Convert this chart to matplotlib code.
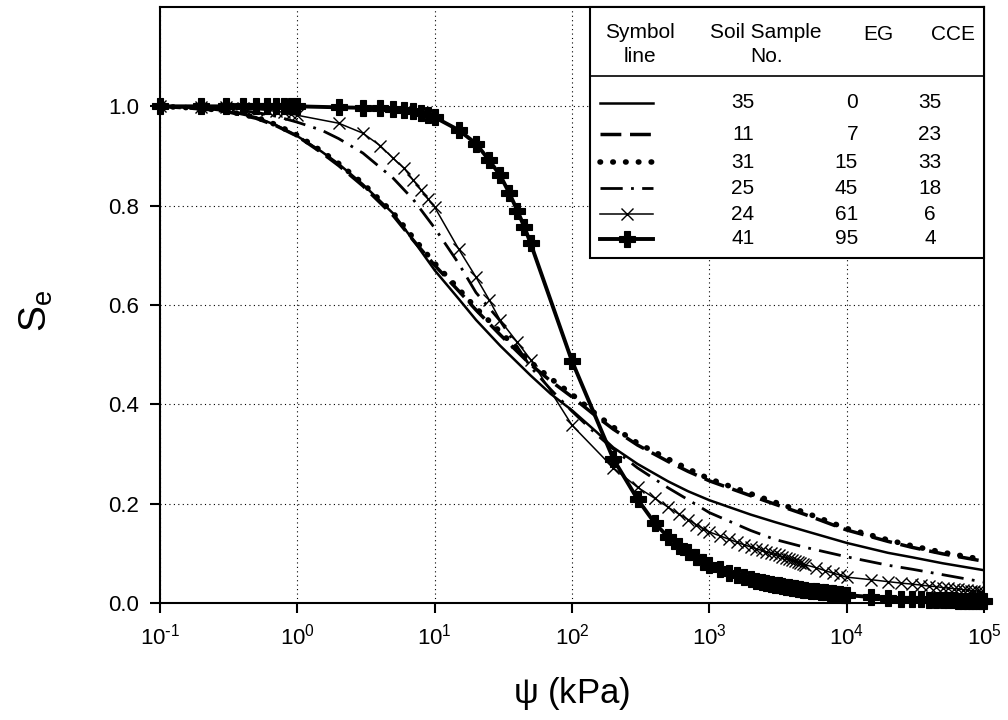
import numpy as np
import matplotlib
matplotlib.use("Agg")
import matplotlib.pyplot as plt
from matplotlib.lines import Line2D
from matplotlib.patches import Rectangle
from matplotlib.ticker import NullLocator, FixedLocator, FixedFormatter

plt.rcParams['font.family'] = ['Liberation Sans', 'DejaVu Sans']
plt.rcParams['mathtext.default'] = 'regular'
plt.rcParams['axes.unicode_minus'] = False

# suction values (kPa) for the smooth model curves
psi_line = [0.1, 0.2, 0.3, 0.5, 0.7, 1, 1.5, 2, 3, 5, 7, 10, 15, 20, 30, 50, 70,
            100, 150, 200, 300, 500, 700, 1000, 2000, 3000, 5000, 10000, 20000,
            30000, 50000, 100000]

se_35 = [1.0, .996, .991, .978, .962, .940, .909, .884, .843, .784, .730, .670,
         .612, .570, .518, .458, .421, .388, .345, .313, .280, .245, .225, .207,
         .178, .163, .145, .121, .101, .092, .080, .066]
se_11 = [1.0, .995, .990, .976, .961, .940, .907, .881, .840, .780, .730, .680,
         .628, .590, .540, .480, .447, .415, .376, .350, .318, .285, .265, .246,
         .216, .199, .178, .147, .124, .112, .099, .084]
se_31 = [1.0, .996, .991, .978, .963, .942, .910, .885, .845, .785, .735, .684,
         .632, .594, .546, .485, .452, .420, .380, .354, .322, .290, .270, .250,
         .220, .203, .182, .150, .127, .115, .102, .087]
se_25 = [1.0, .998, .995, .988, .980, .968, .952, .935, .906, .855, .812, .755,
         .683, .625, .568, .475, .430, .386, .340, .310, .272, .232, .208, .182,
         .146, .128, .112, .093, .076, .068, .057, .042]

# measured points, sample 24 (crosses)
psi_24 = ([0.1, 0.2, 0.3, 0.4, 0.5, 0.6, 0.7, 0.8, 0.9,
           1, 2, 3, 4, 5, 6, 7, 8, 9,
           10, 15, 20, 25, 30, 40, 50,
           100, 200, 300, 400, 500, 600, 700, 800, 900,
           1000, 1200, 1400, 1600, 1800, 2000, 2200, 2400, 2600, 2800, 3000,
           3200, 3400, 3600, 3800, 4000, 4200, 4400, 4600, 4800, 5000,
           6000, 7000, 8000, 9000, 10000,
           15000, 20000, 25000, 30000, 35000, 40000, 45000, 50000, 55000,
           60000, 65000, 70000, 75000, 80000, 85000, 90000, 95000, 100000])
se_24 = ([1.0, .999, .998, .996, .994, .992, .990, .988, .985,
          .982, .966, .946, .921, .895, .875, .851, .831, .813,
          .797, .712, .656, .610, .569, .525, .490,
          .358, .272, .233, .211, .193, .179, .168, .158, .150,
          .143, .135, .128, .122, .117, .113, .109, .106, .103, .100, .098,
          .096, .093, .091, .089, .087, .085, .083, .081, .079, .077,
          .071, .065, .060, .056, .052,
          .047, .043, .040, .038, .036, .034, .033, .031, .030,
          .029, .028, .027, .026, .025, .024, .024, .023, .022])

# measured points, sample 41 (filled plus)
psi_41 = ([0.1, 0.2, 0.3, 0.4, 0.5, 0.6, 0.7, 0.8, 0.9,
           1, 2, 3, 4, 5, 6, 7, 8, 9,
           10, 15, 20, 25, 30, 35, 40, 45, 50,
           100, 200, 300, 400, 500, 600, 700, 800, 900,
           1000, 1200, 1400, 1600, 1800, 2000, 2200, 2400, 2600, 2800, 3000,
           3200, 3400, 3600, 3800, 4000, 4200, 4400, 4600, 4800, 5000,
           5500, 6000, 6500, 7000, 7500, 8000, 8500, 9000, 9500, 10000,
           15000, 20000, 25000, 30000, 35000, 40000, 45000, 50000, 55000,
           60000, 65000, 70000, 75000, 80000, 85000, 90000, 95000, 100000])
se_41 = ([1.0, 1.0, 1.0, 1.0, 1.0, 1.0, 1.0, 1.0, 1.0,
          1.0, .998, .997, .996, .994, .992, .990, .987, .983,
          .978, .952, .925, .891, .861, .825, .790, .757, .724,
          .487, .290, .209, .161, .133, .115, .102, .092, .083,
          .076, .068, .061, .056, .052, .048, .045, .043, .041, .039, .037,
          .036, .034, .033, .032, .031, .030, .029, .028, .027, .026,
          .025, .024, .023, .022, .021, .020, .019, .018, .017, .016,
          .012, .010, .009, .008, .008, .007, .007, .006, .006,
          .006, .005, .005, .005, .005, .004, .004, .004, .004])

x_ticks = [0.1, 1, 10, 100, 1000, 10000, 100000]
x_labels = [r'$10^{\text{-}1}$', r'$10^{0}$', r'$10^{1}$', r'$10^{2}$',
            r'$10^{3}$', r'$10^{4}$', r'$10^{5}$']
y_ticks = [0, 0.2, 0.4, 0.6, 0.8, 1.0]

# legend table
soil_no = ['35', '11', '31', '25', '24', '41']
eg = ['0', '7', '15', '45', '61', '95']
cce = ['35', '23', '33', '18', '6', '4']

fig = plt.figure(figsize=(10.08, 7.2), dpi=100)
ax = fig.add_axes([160/1008, 117/720, 824/1008, 596/720])

styles = [
    dict(color='k', lw=1.8, ls='-'),
    dict(color='k', lw=2.5, ls=(0, (6, 2.5))),
    dict(color='k', lw=4, ls=(0, (0.1, 2.2)), dash_capstyle='round'),
    dict(color='k', lw=2.0, ls=(0, (8, 3, 1, 3))),
    dict(color='k', lw=1.1, ls='-', marker='x', ms=9, mew=1.0),
    dict(color='k', lw=2.8, ls='-', marker='P', ms=12, mew=0.8),
]

ax.plot(psi_line, se_35, **styles[0])
ax.plot(psi_line, se_11, **styles[1])
ax.plot(psi_line, se_31, **styles[2])
ax.plot(psi_line, se_25, **styles[3])
ax.plot(psi_24, se_24, **styles[4])
ax.plot(psi_41, se_41, **styles[5], clip_on=False)

ax.set_xscale('log')
ax.set_xlim(0.1, 1e5)
ax.set_ylim(0, 1.2)
ax.xaxis.set_major_locator(FixedLocator(x_ticks))
ax.xaxis.set_major_formatter(FixedFormatter(x_labels))
ax.xaxis.set_minor_locator(NullLocator())
ax.yaxis.set_major_locator(FixedLocator(y_ticks))
ax.set_yticklabels([f'{v:.1f}' for v in y_ticks])
ax.grid(True, ls=(0, (1, 3)), color='k', lw=0.8)
ax.tick_params(direction='out', length=7, width=1.5, labelsize=16, pad=8)
for s in ax.spines.values():
    s.set_linewidth(1.5)

ax.set_xlabel(r'$\psi$ (kPa)', fontsize=25, labelpad=18)
ax.set_ylabel(r'$S_e$', fontsize=28)
ax.yaxis.set_label_coords(-0.128, 0.49)


def axc(px, py):
    return ((px - 160) / 824, (603 - py) / 596)


x0, y0 = axc(590, 258)
x1, y1 = axc(984, 7)
ax.add_patch(Rectangle((x0, y0), x1 - x0, y1 - y0, transform=ax.transAxes,
                       facecolor='white', edgecolor='k', lw=1.5, zorder=10,
                       clip_on=False))
_, ys = axc(0, 76)
ax.add_line(Line2D([x0, x1], [ys, ys], transform=ax.transAxes, color='k',
                   lw=1.2, zorder=11))

hdr = dict(transform=ax.transAxes, fontsize=15, zorder=12, ha='center',
           va='center')
ax.text(*axc(640, 33), 'Symbol', **hdr)
ax.text(*axc(640, 56), 'line', **hdr)
ax.text(*axc(766, 33), 'Soil Sample', **hdr)
ax.text(*axc(767, 56), 'No.', **hdr)
ax.text(*axc(878, 35), 'EG', **hdr)
ax.text(*axc(953, 35), 'CCE', **hdr)

row_y = [103, 134, 162, 188, 214, 239]
for i in range(6):
    hx0, hy = axc(600, row_y[i])
    hx1, _ = axc(653, row_y[i])
    st = dict(styles[i])
    mk = st.pop('marker', None)
    ax.add_line(Line2D([hx0, hx1], [hy, hy], transform=ax.transAxes,
                       zorder=12, **{k: v for k, v in st.items()
                                     if k not in ('ms', 'mew')}))
    if mk:
        ax.add_line(Line2D([(hx0 + hx1) / 2], [hy], transform=ax.transAxes,
                           marker=mk, color='k', ms=st.get('ms'),
                           mew=st.get('mew'), ls='none', zorder=13))
    ax.text(*axc(743, row_y[i]), soil_no[i], transform=ax.transAxes,
            fontsize=15, ha='center', va='center', zorder=12)
    ax.text(*axc(858, row_y[i]), eg[i], transform=ax.transAxes,
            fontsize=15, ha='right', va='center', zorder=12)
    ax.text(*axc(930, row_y[i]), cce[i], transform=ax.transAxes,
            fontsize=15, ha='center', va='center', zorder=12)

fig.savefig('out.png', dpi=100)
